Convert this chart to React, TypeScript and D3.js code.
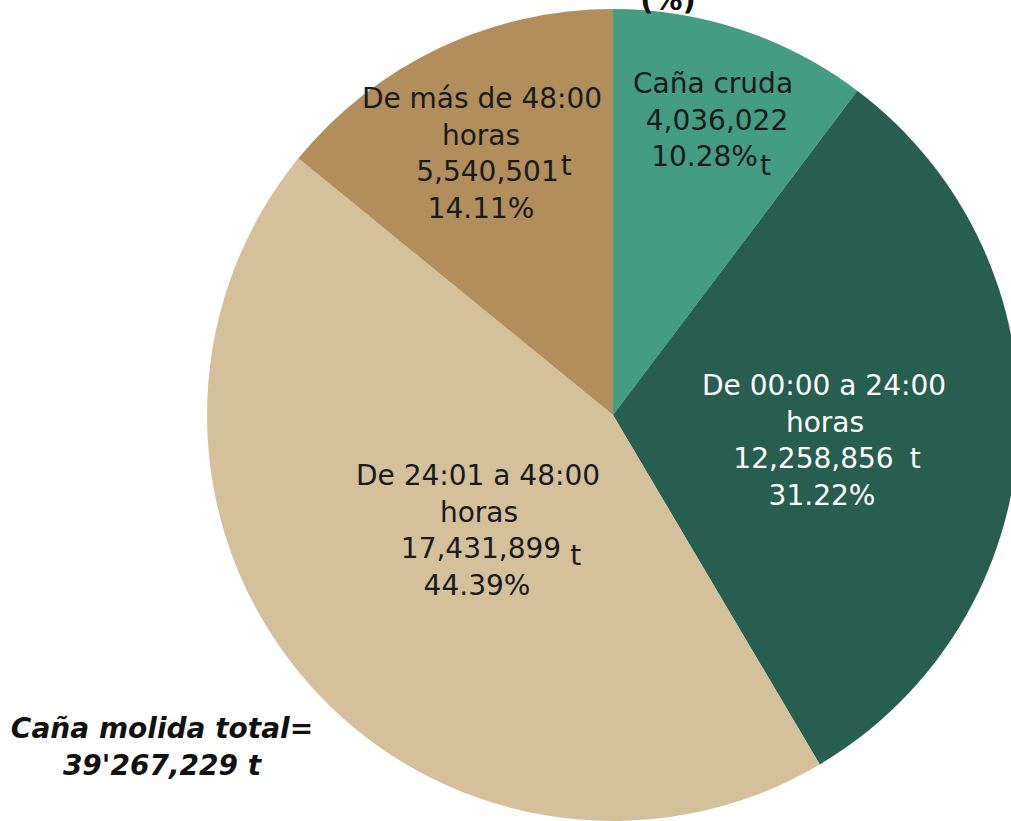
import React from "react";
import * as d3 from "d3";

const categories = ["Caña cruda", "De 00:00 a 24:00 horas", "De 24:01 a 48:00 horas", "De más de 48:00 horas"];
const tonnes = [4036022, 12258856, 17431899, 5540501];
const percents = ["10.28%", "31.22%", "44.39%", "14.11%"];
const tonneLabels = ["4,036,022", "12,258,856", "17,431,899", "5,540,501"];
const colors = ["#449c82", "#285e4f", "#d4c19c", "#b28e5c"];
const textColors = ["#1a1a1a", "#ffffff", "#1a1a1a", "#1a1a1a"];
const titleText = "(%)";
const totalLines = ["Caña molida total=", "39'267,229 t"];

const W = 1011;
const H = 821;
const cx = 613;
const cy = 415;
const R = 406;
const FONT = "'DejaVu Sans', Verdana, sans-serif";
const FS = 28;
const LH = 36.7;

// label layout: block centre x, first baseline, per-line dx, "t" unit offsets
type Layout = { x: number; y: number; dx: number[]; tdx: number; tdy: number; tSep: string };
const layouts: Layout[] = [
  { x: 713, y: 93, dx: [0, 4, -2, -2], tdx: 2, tdy: 9, tSep: "" },
  { x: 824, y: 395, dx: [0, 1, 3, -2], tdx: 16, tdy: 0, tSep: "" },
  { x: 478, y: 485, dx: [0, 1, 13, -1], tdx: 9, tdy: 7, tSep: "" },
  { x: 482, y: 108, dx: [0, -1, 12, -1], tdx: 2, tdy: -6, tSep: "" },
];

function splitName(name: string): string[] {
  const i = name.lastIndexOf(" horas");
  if (i > 0) return [name.slice(0, i), "horas"];
  return [name];
}

export default function App() {
  const pie = d3.pie<number>().sort(null).value((d) => d);
  const arcs = pie(tonnes);
  const arc = d3.arc<d3.PieArcDatum<number>>().innerRadius(0).outerRadius(R);

  return (
    <svg
      width={W}
      height={H}
      viewBox={`0 0 ${W} ${H}`}
      style={{ position: "absolute", left: 0, top: 0, background: "#ffffff" }}
    >
      <rect x={0} y={0} width={W} height={H} fill="#ffffff" />
      <g transform={`translate(${cx},${cy})`}>
        {arcs.map((a, i) => (
          <path key={i} d={arc(a) || ""} fill={colors[i]} />
        ))}
      </g>
      {arcs.map((a, i) => {
        const L = layouts[i];
        const nameLines = splitName(categories[i]);
        const isCruda = nameLines.length === 1;
        const lines: React.ReactNode[] = [];
        let k = 0;
        nameLines.forEach((ln) => {
          lines.push(
            <text key={k} x={L.x + L.dx[k]} y={L.y + k * LH} textAnchor="middle">
              {ln}
            </text>
          );
          k++;
        });
        if (isCruda) {
          lines.push(
            <text key={k} x={L.x + L.dx[k]} y={L.y + k * LH} textAnchor="middle">
              {tonneLabels[i]}
            </text>
          );
          k++;
          lines.push(
            <text key={k} x={L.x + L.dx[k]} y={L.y + k * LH} textAnchor="middle">
              {percents[i]}
              <tspan dx={L.tdx} dy={L.tdy}>t</tspan>
            </text>
          );
        } else {
          lines.push(
            <text key={k} x={L.x + L.dx[k]} y={L.y + k * LH} textAnchor="middle">
              {tonneLabels[i] + L.tSep}
              <tspan dx={L.tdx} dy={L.tdy}>t</tspan>
            </text>
          );
          k++;
          lines.push(
            <text key={k} x={L.x + L.dx[k]} y={L.y + k * LH} textAnchor="middle">
              {percents[i]}
            </text>
          );
        }
        return (
          <g key={"l" + i} fill={textColors[i]} fontFamily={FONT} fontSize={FS}>
            {lines}
          </g>
        );
      })}
      <text x={668} y={10} textAnchor="middle" fontFamily={FONT} fontSize={29} fontWeight="bold" fill="#111">
        {titleText}
      </text>
      <g fontFamily={FONT} fontSize={28} fontWeight="bold" fontStyle="italic" fill="#111" textAnchor="middle">
        {totalLines.map((t, i) => (
          <text key={i} x={162} y={738 + i * 37}>
            {t}
          </text>
        ))}
      </g>
    </svg>
  );
}
